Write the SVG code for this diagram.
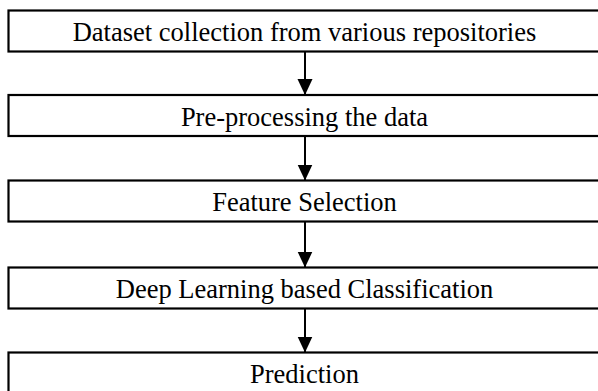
<svg xmlns="http://www.w3.org/2000/svg" width="598" height="391" viewBox="0 0 598 391">
<defs>
<style>
.box{fill:#fff;stroke:#000;stroke-width:2.2}
.lbl{font-family:"Liberation Serif","Times New Roman",serif;font-size:26.5px;fill:#000;text-anchor:middle}
.conn{stroke:#000;stroke-width:2;fill:none}
</style>
<marker id="ah" markerWidth="15" markerHeight="16" refX="16" refY="7.5" orient="auto" markerUnits="userSpaceOnUse">
<path d="M0,0 L16,7.5 L0,15 Z" fill="#000"/>
</marker>
</defs>
<rect width="598" height="391" fill="#fff"/>
<g id="n1"><rect class="box" x="8.5" y="10.5" width="600" height="41"/><text class="lbl" x="304.5" y="41">Dataset collection from various repositories</text></g>
<g id="n2"><rect class="box" x="8.5" y="95" width="600" height="41"/><text class="lbl" x="304.5" y="125.5">Pre-processing the data</text></g>
<g id="n3"><rect class="box" x="8.5" y="180.5" width="600" height="41"/><text class="lbl" x="304.5" y="211">Feature Selection</text></g>
<g id="n4"><rect class="box" x="8.5" y="267.5" width="600" height="41"/><text class="lbl" x="304.5" y="298">Deep Learning based Classification</text></g>
<g id="n5"><rect class="box" x="8.5" y="352.5" width="600" height="41"/><text class="lbl" x="304.5" y="383">Prediction</text></g>
<g id="connectors">
<line class="conn" x1="305" y1="51.5" x2="305" y2="95" marker-end="url(#ah)"/>
<line class="conn" x1="305" y1="136" x2="305" y2="180.5" marker-end="url(#ah)"/>
<line class="conn" x1="305" y1="221.5" x2="305" y2="267.5" marker-end="url(#ah)"/>
<line class="conn" x1="305" y1="308.5" x2="305" y2="352.5" marker-end="url(#ah)"/>
</g>
</svg>
